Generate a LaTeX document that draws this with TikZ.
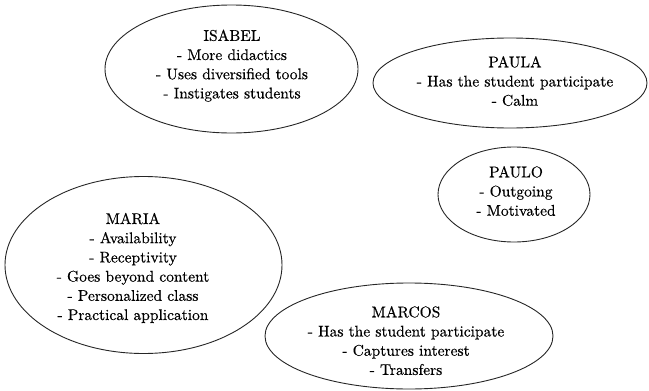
\documentclass[tikz,border=0pt]{standalone}
\usepackage{fontspec}
\setmainfont{lmroman10-regular.otf}[FakeBold=0.4]
\usetikzlibrary{shapes.geometric}
\begin{document}
\begin{tikzpicture}[x=1pt,y=-1pt,
  bubble/.style={draw=black!85, line width=0.9pt, ellipse, inner sep=0pt, outer sep=0pt},
  notes/.style={anchor=north, align=center, inner sep=0pt,
    font=\rmfamily\fontsize{15.5}{19.2}\selectfont}]
\useasboundingbox (0,0) rectangle (649,391);

% teacher ellipses
\node[bubble, minimum width=253pt, minimum height=128pt] (isabel) at (231.5,69) {};
\node[bubble, minimum width=274pt, minimum height=90pt]  (paula)  at (510,83) {};
\node[bubble, minimum width=152pt, minimum height=95pt]  (paulo)  at (514,194.5) {};
\node[bubble, minimum width=277pt, minimum height=177pt] (maria)  at (143.5,265) {};
\node[bubble, minimum width=288pt, minimum height=106pt] (marcos) at (409,336) {};

% traits listed inside each ellipse
\node[notes] (isabeltxt) at (232,29.5) {ISABEL\\- More didactics\\- Uses diversified tools\\- Instigates students};
\node[notes] (paulatxt) at (515,56) {PAULA\\- Has the student participate\\- Calm};
\node[notes] (paulotxt) at (516,166) {PAULO\\- Outgoing\\- Motivated};
\node[notes] (mariatxt) at (133,212.7) {MARIA\\- Availability\\- Receptivity\\- Goes beyond content\\- Personalized class\\- Practical application};
\node[notes] (marcostxt) at (406,306) {MARCOS\\- Has the student participate\\- Captures interest\\- Transfers};
\end{tikzpicture}
\end{document}
